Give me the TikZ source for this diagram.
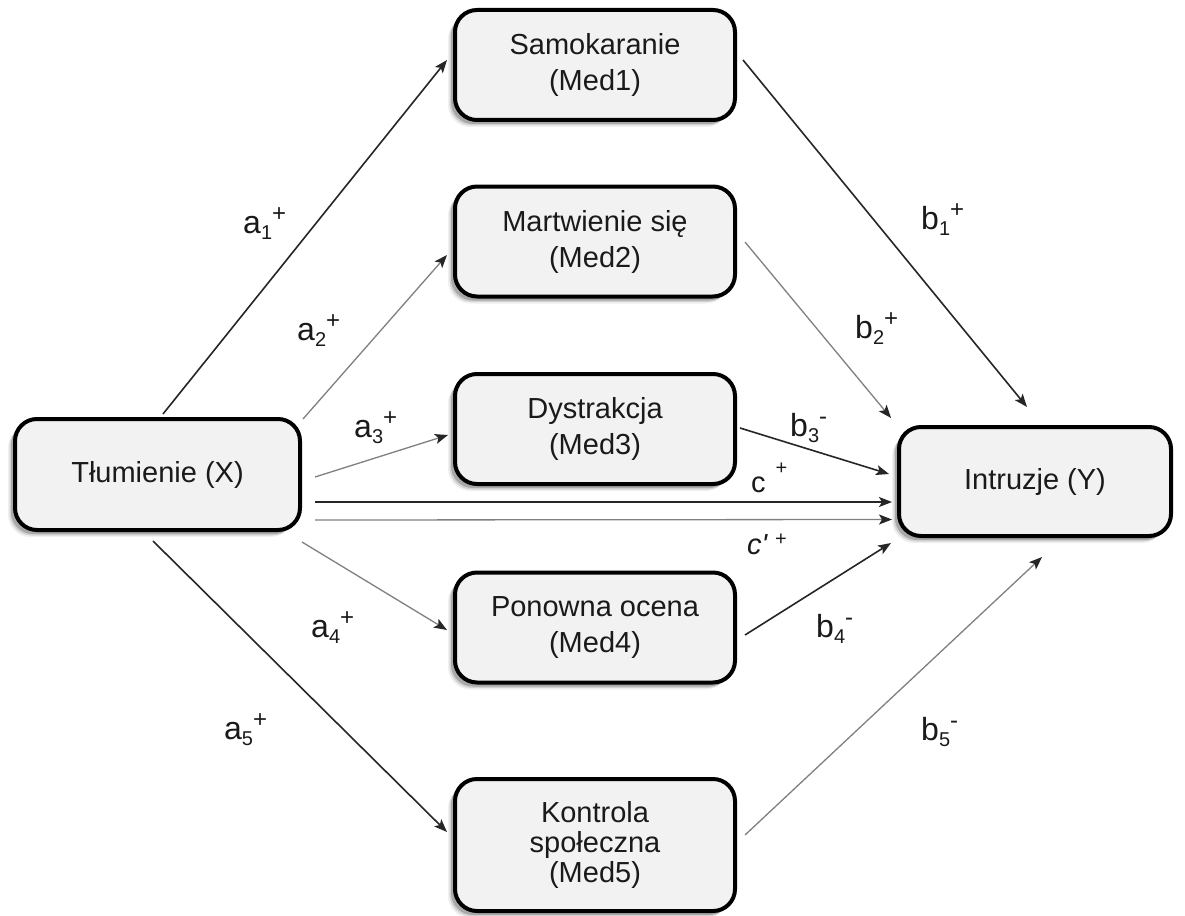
\documentclass[tikz,border=0pt]{standalone}
\usepackage{fontspec}
\setmainfont{Liberation Sans}
\usetikzlibrary{arrows.meta,calc,shadows}
\definecolor{boxfill}{HTML}{F2F2F2}
\definecolor{dkline}{HTML}{262626}
\definecolor{grline}{HTML}{808080}
\definecolor{txt}{HTML}{1A1A1A}
\newcommand{\sublab}[3]{#1\raisebox{-6pt}{\fontsize{20}{20}\selectfont #2}\raisebox{12pt}{\fontsize{24}{24}\selectfont #3}}
\tikzset{
  softshadow/.style={
    drop shadow={shadow xshift=-7pt,shadow yshift=-7pt,opacity=0.06,fill=black},
    drop shadow={shadow xshift=-5.5pt,shadow yshift=-5.5pt,opacity=0.12,fill=black},
    drop shadow={shadow xshift=-4pt,shadow yshift=-4pt,opacity=0.2,fill=black}},
  box/.style={draw=black, line width=4pt, rounded corners=22pt, fill=boxfill,
    inner sep=0pt, align=center, text=txt, font=\fontsize{29}{36}\selectfont,
    minimum width=280pt, minimum height=110pt, softshadow},
  dk/.style={draw=dkline, line width=1.6pt,
    -{Stealth[length=13pt,width=10pt,inset=3pt,color=dkline]}},
  gr/.style={draw=grline, line width=1.3pt,
    -{Stealth[length=13pt,width=10pt,inset=3pt,color=dkline]}},
  lab/.style={inner sep=0pt, anchor=base west, text=txt, font=\fontsize{32}{32}\selectfont},
  clab/.style={inner sep=0pt, anchor=base west, text=txt, font=\fontsize{29}{29}\selectfont}
}
\begin{document}
\begin{tikzpicture}[x=1pt,y=-1pt]
\useasboundingbox[fill=white] (0,0) rectangle (1185,915);

% boxes
\node[box, minimum width=285pt, minimum height=111pt] (X) at (157.5,474.5) {Tłumienie (X)};
\node[box] (M1) at (595,65) {Samokaranie\\(Med1)};
\node[box] (M2) at (595,241.5) {Martwienie się\\(Med2)};
\node[box] (M3) at (595,429) {Dystrakcja\\(Med3)};
\node[box] (M4) at (595,627.5) {Ponowna ocena\\(Med4)};
\node[box, minimum height=132pt, font=\fontsize{29}{30}\selectfont] (M5) at (595,845) {Kontrola\\społeczna\\(Med5)};
\node[box, minimum width=272pt, minimum height=109pt] (Y) at (1035,481.5) {Intruzje (Y)};

% a paths
\draw[dk] ($(X.north)+(5.5,-3)$) -- ($(M1.west)+(-6,-5)$);
\draw[gr] ($(X.north east)+(1,2)$) -- ($(M2.west)+(-6,13.5)$);
\draw[gr] ($(X.east)+(13,2.5)$) -- ($(M3.west)+(-5,6)$);
\draw[gr] ($(X.south east)+(0,10)$) -- ($(M4.west)+(-6,2.5)$);
\draw[dk] ($(X.south)+(-4.5,9)$) -- ($(M5.west)+(-6,-13)$);

% c paths
\draw[dk] ($(X.east)+(13,27.5)$) -- ($(Y.west)+(-5,20.5)$);
\draw[gr] ($(X.east)+(13,45.5)$) -- ($(Y.west)+(-5,38)$);

% b paths
\draw[dk] ($(M1.east)+(6,-5)$) -- ($(Y.north)+(-8,-18)$);
\draw[gr] ($(M2.east)+(8,0.5)$) -- ($(Y.north west)+(-6,-7)$);
\draw[dk] ($(M3.east)+(3,-1)$) -- ($(Y.west)+(-8,-7.5)$);
\draw[dk] ($(M4.east)+(8,7.5)$) -- ($(Y.south west)+(-6,5)$);
\draw[gr] ($(M5.east)+(8,-10)$) -- ($(Y.south)+(7,19)$);

% labels
\node[lab] (la1) at (243,233) {\sublab{a}{1}{+}};
\node[lab] (la2) at (297,340) {\sublab{a}{2}{+}};
\node[lab] (la3) at (354,437) {\sublab{a}{3}{+}};
\node[lab] (la4) at (311,637) {\sublab{a}{4}{+}};
\node[lab] (la5) at (224,739) {\sublab{a}{5}{+}};
\node[lab] (lb1) at (921,229) {\sublab{b}{1}{+}};
\node[lab] (lb2) at (855,338) {\sublab{b}{2}{+}};
\node[lab] (lb3) at (790,436) {\sublab{b}{3}{-}};
\node[lab] (lb4) at (816,637) {\sublab{b}{4}{-}};
\node[lab] (lb5) at (921,740) {\sublab{b}{5}{-}};
\node[clab] (lc) at (751,492) {c\hspace{10pt}\raisebox{18pt}{\fontsize{20}{20}\selectfont +}};
\node[clab] (lcp) at (747,554) {\textit{c\textquotesingle}\hspace{7pt}\raisebox{9pt}{\fontsize{20}{20}\selectfont +}};
\end{tikzpicture}
\end{document}
